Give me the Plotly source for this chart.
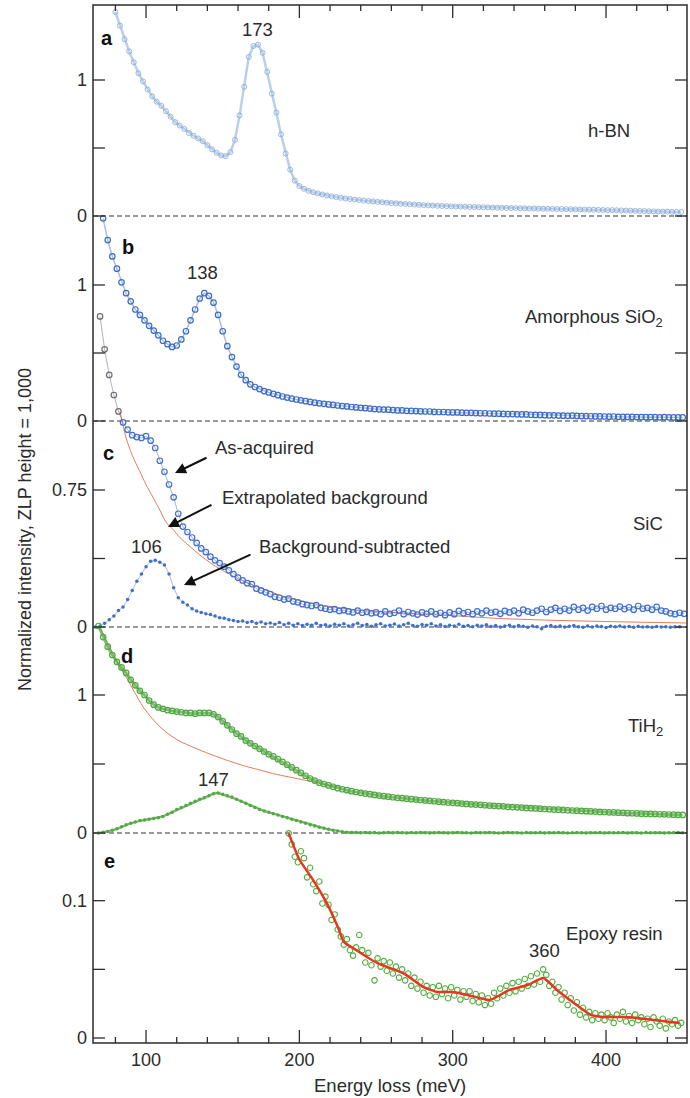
import numpy as np
import plotly.graph_objects as go

FONT = "Liberation Sans, Arial, Helvetica, sans-serif"
INK = "#2b2b2b"

# ---------------------------------------------------------------------------
# Spectra: energy loss (meV) on a regular channel grid, intensity normalised
# to a zero-loss-peak height of 1,000.
# ---------------------------------------------------------------------------
STEP = 3  # meV between channels

# a  h-BN
HBN_START = 80
hbn = [1.50, 1.40, 1.30, 1.21, 1.13, 1.05, 0.99, 0.93, 0.88, 0.84,
       0.81, 0.77, 0.73, 0.69, 0.665, 0.64, 0.61, 0.59, 0.57, 0.55,
       0.52, 0.49, 0.465, 0.445, 0.44, 0.47, 0.56, 0.74, 0.95, 1.17,
       1.25, 1.26, 1.20, 1.06, 0.90, 0.76, 0.60, 0.46, 0.34, 0.26,
       0.22, 0.20, 0.185, 0.175, 0.166, 0.158, 0.151, 0.145, 0.139, 0.134,
       0.129, 0.125, 0.121, 0.117, 0.113, 0.110, 0.107, 0.104, 0.101, 0.098,
       0.095, 0.093, 0.090, 0.088, 0.086, 0.084, 0.082, 0.080, 0.078, 0.077,
       0.075, 0.074, 0.072, 0.071, 0.070, 0.069, 0.068, 0.067, 0.066, 0.065,
       0.064, 0.063, 0.062, 0.061, 0.060, 0.059, 0.058, 0.058, 0.057, 0.056,
       0.055, 0.055, 0.054, 0.053, 0.053, 0.052, 0.051, 0.051, 0.050, 0.050,
       0.049, 0.048, 0.047, 0.047, 0.046, 0.045, 0.044, 0.043, 0.043, 0.042,
       0.041, 0.040, 0.039, 0.038, 0.037, 0.036, 0.035, 0.034, 0.033, 0.032,
       0.032, 0.031, 0.030, 0.030]

# b  amorphous SiO2
SIO2_START = 72
sio2 = [1.49, 1.33, 1.21, 1.12, 1.02, 0.94, 0.88, 0.82, 0.78, 0.74,
        0.70, 0.665, 0.63, 0.59, 0.565, 0.545, 0.555, 0.60, 0.66, 0.74,
        0.82, 0.90, 0.94, 0.92, 0.87, 0.78, 0.66, 0.55, 0.47, 0.40,
        0.34, 0.30, 0.27, 0.25, 0.235, 0.22, 0.21, 0.20, 0.19, 0.18,
        0.172, 0.165, 0.158, 0.152, 0.146, 0.140, 0.135, 0.130, 0.126, 0.122,
        0.118, 0.114, 0.110, 0.107, 0.103, 0.100, 0.097, 0.094, 0.091, 0.088,
        0.086, 0.084, 0.083, 0.080, 0.078, 0.078, 0.075, 0.074, 0.073, 0.071,
        0.070, 0.070, 0.067, 0.066, 0.066, 0.064, 0.063, 0.063, 0.061, 0.060,
        0.060, 0.058, 0.057, 0.057, 0.055, 0.054, 0.054, 0.052, 0.051, 0.051,
        0.049, 0.048, 0.048, 0.046, 0.045, 0.045, 0.043, 0.042, 0.042, 0.040,
        0.039, 0.038, 0.039, 0.037, 0.036, 0.036, 0.035, 0.034, 0.034, 0.033,
        0.032, 0.033, 0.031, 0.031, 0.030, 0.031, 0.029, 0.029, 0.028, 0.029,
        0.028, 0.027, 0.028, 0.027, 0.026, 0.027, 0.026]

# c  SiC: as-acquired, extrapolated background, background-subtracted
SIC_START = 70
sic_raw = [1.70, 1.52, 1.38, 1.27, 1.18, 1.12, 1.08, 1.05, 1.04, 1.035,
           1.045, 1.02, 0.98, 0.91, 0.85, 0.78, 0.71, 0.62, 0.55, 0.52,
           0.49, 0.46, 0.43, 0.41, 0.385, 0.365, 0.35, 0.33, 0.31, 0.29,
           0.27, 0.255, 0.24, 0.235, 0.21, 0.20, 0.19, 0.18, 0.165, 0.16,
           0.15, 0.155, 0.14, 0.135, 0.125, 0.12, 0.115, 0.12, 0.105, 0.10,
           0.095, 0.098, 0.088, 0.092, 0.085, 0.08, 0.09, 0.078, 0.083, 0.075,
           0.08, 0.07, 0.085, 0.072, 0.078, 0.09, 0.07, 0.082, 0.075, 0.068,
           0.08, 0.072, 0.085, 0.07, 0.078, 0.065, 0.08, 0.07, 0.088, 0.075,
           0.082, 0.07, 0.085, 0.075, 0.09, 0.078, 0.083, 0.072, 0.088, 0.08,
           0.09, 0.075, 0.095, 0.085, 0.078, 0.09, 0.10, 0.082, 0.095, 0.105,
           0.088, 0.10, 0.09, 0.11, 0.095, 0.105, 0.09, 0.11, 0.10, 0.115,
           0.095, 0.105, 0.10, 0.112, 0.098, 0.108, 0.095, 0.115, 0.10, 0.105,
           0.095, 0.11, 0.09, 0.085, 0.075, 0.07, 0.078, 0.072]

sic_bg_e = [83, 87, 91, 96, 100, 104.5, 109, 113, 118, 122, 128, 135, 143,
            152, 160, 170, 180, 187, 198, 218, 238, 260, 280, 300, 330, 360,
            400, 452]
sic_bg = [1.18, 1.035, 0.94, 0.85, 0.78, 0.71, 0.64, 0.575, 0.53, 0.49,
          0.445, 0.395, 0.345, 0.30, 0.265, 0.228, 0.198, 0.175, 0.15, 0.115,
          0.093, 0.08, 0.07, 0.062, 0.047, 0.038, 0.030, 0.022]

SIC_SUB_START = 67
sic_sub = [0.0, 0.005, 0.02, 0.04, 0.06, 0.09, 0.11, 0.15, 0.2, 0.25,
           0.29, 0.33, 0.36, 0.365, 0.355, 0.34, 0.29, 0.215, 0.16, 0.135,
           0.12, 0.1, 0.088, 0.08, 0.072, 0.068, 0.06, 0.05, 0.048, 0.04,
           0.035, 0.03, 0.033, 0.025, 0.03, 0.02, 0.028, 0.018, 0.022, 0.015,
           0.025, 0.012, 0.02, 0.01, 0.018, 0.008, 0.015, 0.01, 0.02, 0.008,
           0.012, 0.005, 0.015, 0.01, 0.018, 0.006, 0.012, 0.02, 0.008, 0.014,
           0.004, 0.012, 0.018, 0.006, 0.01, 0.016, 0.005, 0.012, 0.02, 0.008,
           0.004, 0.014, 0.01, 0.018, 0.006, 0.012, 0.003, 0.01, 0.006, 0.015,
           0.004, 0.008, 0.002, 0.01, 0.005, 0.012, 0.003, 0.008, 0.0, 0.006,
           0.01, 0.002, 0.008, 0.004, -0.002, 0.006, 0.002, -0.01, 0.004, 0.008,
           0.002, 0.006, 0.0, 0.004, 0.008, 0.002, -0.002, 0.005, 0.0, 0.006,
           0.003, -0.003, 0.004, 0.001, 0.006, 0.0, 0.003, -0.002, 0.004, 0.0,
           0.002, -0.001, 0.003, 0.0, 0.002, -0.002, 0.001, 0.002]

# d  TiH2: as-acquired, extrapolated background, background-subtracted
TIH2_START = 69
tih2_raw = [1.50, 1.42, 1.35, 1.29, 1.24, 1.20, 1.16, 1.11, 1.07, 1.03,
            1.00, 0.96, 0.93, 0.91, 0.90, 0.89, 0.885, 0.88, 0.875, 0.87,
            0.87, 0.865, 0.87, 0.87, 0.87, 0.86, 0.84, 0.81, 0.78, 0.75,
            0.72, 0.70, 0.67, 0.65, 0.63, 0.61, 0.59, 0.57, 0.555, 0.535,
            0.515, 0.495, 0.475, 0.455, 0.435, 0.415, 0.395, 0.38, 0.365, 0.355,
            0.345, 0.335, 0.325, 0.317, 0.31, 0.303, 0.297, 0.291, 0.286, 0.281,
            0.276, 0.271, 0.267, 0.263, 0.259, 0.255, 0.252, 0.249, 0.245, 0.242,
            0.239, 0.236, 0.233, 0.23, 0.227, 0.224, 0.221, 0.219, 0.216, 0.213,
            0.211, 0.208, 0.206, 0.204, 0.201, 0.199, 0.197, 0.195, 0.193, 0.19,
            0.188, 0.186, 0.184, 0.182, 0.18, 0.178, 0.176, 0.174, 0.172, 0.17,
            0.169, 0.167, 0.165, 0.163, 0.162, 0.16, 0.158, 0.156, 0.155, 0.153,
            0.152, 0.15, 0.149, 0.147, 0.146, 0.144, 0.143, 0.142, 0.14, 0.139,
            0.138, 0.137, 0.136, 0.135, 0.134, 0.133, 0.132, 0.131]

tih2_bg_e = [70, 74, 78, 82, 87, 92, 98, 104, 109, 115, 122, 131, 141, 152,
             163, 174, 185, 196, 207, 218, 225]
tih2_bg = [1.49, 1.40, 1.31, 1.22, 1.13, 1.03, 0.915, 0.83, 0.77, 0.715,
           0.665, 0.62, 0.575, 0.53, 0.49, 0.457, 0.425, 0.40, 0.375, 0.348,
           0.335]

tih2_sub = [0.0, 0.005, 0.01, 0.02, 0.03, 0.045, 0.06, 0.07, 0.08, 0.09,
            0.095, 0.10, 0.105, 0.11, 0.12, 0.135, 0.15, 0.17, 0.185, 0.20,
            0.215, 0.23, 0.245, 0.255, 0.27, 0.285, 0.29, 0.28, 0.27, 0.26,
            0.245, 0.23, 0.215, 0.20, 0.185, 0.17, 0.16, 0.15, 0.14, 0.13,
            0.12, 0.11, 0.10, 0.09, 0.08, 0.07, 0.06, 0.05, 0.042, 0.035,
            0.027, 0.02, 0.014, 0.009, 0.006, 0.004,
            0.003, 0.002, 0.004, 0.001, 0.003, 0.0, 0.002, 0.004, 0.001, 0.003,
            0.002, 0.0, 0.003, 0.001, 0.004, 0.002, 0.0, 0.002, 0.003, 0.001,
            0.0, 0.002, 0.004, 0.001, 0.002, 0.0, 0.003, 0.001, 0.002, 0.004,
            0.001, 0.0, 0.002, 0.003, 0.001, 0.002, 0.0, 0.003, 0.002, 0.001,
            0.003, 0.0, 0.002, 0.001, 0.004, 0.002, 0.0, 0.001, 0.003, 0.002,
            0.0, 0.002, 0.001, 0.003, 0.0, 0.002, 0.001, 0.002, 0.003, 0.0,
            0.001, 0.002, 0.0, 0.003, 0.001, 0.002, 0.001, 0.0, 0.002, 0.001,
            0.003, 0.001]

# e  epoxy resin: measured points and smoothed fit
EPOXY_START = 193
EPOXY_STEP = 2
epoxy = [0.149, 0.141, 0.132, 0.128, 0.136, 0.131, 0.117, 0.124, 0.112, 0.107,
         0.114, 0.098, 0.103, 0.097, 0.086, 0.090, 0.079, 0.074, 0.068, 0.072,
         0.064, 0.060, 0.066, 0.075, 0.064, 0.055, 0.062, 0.053, 0.042, 0.058,
         0.052, 0.056, 0.049, 0.055, 0.047, 0.052, 0.044, 0.050, 0.042, 0.047,
         0.038, 0.044, 0.036, 0.041, 0.033, 0.038, 0.031, 0.037, 0.030, 0.038,
         0.032, 0.036, 0.029, 0.037, 0.031, 0.035, 0.028, 0.034, 0.030, 0.034,
         0.027, 0.032, 0.026, 0.031, 0.024, 0.029, 0.025, 0.033, 0.029, 0.036,
         0.031, 0.038, 0.033, 0.040, 0.034, 0.041, 0.036, 0.043, 0.038, 0.045,
         0.039, 0.047, 0.041, 0.050, 0.046, 0.038, 0.041, 0.033, 0.037, 0.028,
         0.033, 0.024, 0.029, 0.020, 0.026, 0.017, 0.022, 0.015, 0.019, 0.013,
         0.018, 0.014, 0.017, 0.013, 0.018, 0.015, 0.011, 0.017, 0.014, 0.019,
         0.012, 0.016, 0.011, 0.017, 0.013, 0.015, 0.010, 0.014, 0.008, 0.015,
         0.012, 0.009, 0.014, 0.007, 0.012, 0.010, 0.013, 0.009, 0.011]

epoxy_fit_e = [193, 200, 209, 218, 225, 229, 235, 244, 251, 259, 268, 281, 290,
               300, 311, 324, 337, 349, 359, 368, 379, 390, 398, 411, 420, 431, 448]
epoxy_fit = [0.149, 0.130, 0.115, 0.098, 0.081, 0.070, 0.0655, 0.059, 0.0546,
             0.051, 0.047, 0.037, 0.0335, 0.0335, 0.031, 0.0277, 0.035, 0.0386,
             0.0437, 0.035, 0.0255, 0.0168, 0.0153, 0.0153, 0.0146, 0.0131, 0.0109]

# Peak labels: (energy, intensity, text) per panel
peak_labels = {
    "a": (173, 1.37, "173"),
    "b": (137, 1.09, "138"),
    "c": (100.6, 0.44, "106"),
    "d": (144, 0.39, "147"),
    "e": (359.7, 0.064, "360"),
}

x_tickvals = [100, 200, 300, 400]
x_minor_tickvals = [80, 120, 140, 160, 180, 220, 240, 260, 280,
                    320, 340, 360, 380, 420, 440]
X_RANGE = [65.4, 452.8]


def energies(start, values, step=STEP):
    return start + step * np.arange(len(values))


# ---------------------------------------------------------------------------
# Geometry: one shared plot area; each panel gets its own overlaid y axis whose
# range puts that panel's zero on its dashed baseline.
# ---------------------------------------------------------------------------
W, H = 690, 1098
PL, PR, PT, PB = 93, 687, 5, 1043  # plot area in pixels
PW, PH = PR - PL, PB - PT

panels = {
    # name: (axis, zero-line pixel row, px per unit, major tick, label)
    "a": ("y", 216, 136.0, 1.0, "1"),
    "b": ("y2", 421, 136.0, 1.0, "1"),
    "c": ("y3", 627, 137.0 / 0.75, 0.75, "0.75"),
    "d": ("y4", 833, 138.0, 1.0, "1"),
    "e": ("y5", 1038, 1373.0, 0.1, "0.1"),
}


def yrange(zero_px, scale):
    return [(zero_px - PB) / scale, (zero_px - PT) / scale]


def paper_x(px):
    return (px - PL) / PW


def paper_y(py):
    return (PB - py) / PH


def axis_key(ax):
    return "yaxis" if ax == "y" else "yaxis" + ax[1:]


C_TOP = (panels["c"][1] - 420) / panels["c"][2]   # upper edge of panel c

fig = go.Figure()

BLUE_B = "#3d6cc4"
BLUE_C = "#3f70d2"
GREEN = "#52a843"
GREEN_E = "#4fae3a"
BG_RED = "#e27b5d"
FIT_RED = "#e8351e"

# a  h-BN
fig.add_trace(go.Scatter(
    x=energies(HBN_START, hbn), y=hbn, yaxis="y", mode="lines+markers",
    line=dict(color="rgba(126,169,222,0.55)", width=2.5),
    marker=dict(symbol="circle-open", size=5, color="rgba(140,170,210,0.85)",
                line=dict(width=1))))

# b  SiO2
fig.add_trace(go.Scatter(
    x=energies(SIO2_START, sio2), y=sio2, yaxis="y2", mode="lines+markers",
    line=dict(color="rgba(61,108,196,0.45)", width=1.5),
    marker=dict(symbol="circle-open", size=5.5, color=BLUE_B, line=dict(width=1.2))))

# c  SiC
fig.add_trace(go.Scatter(
    x=sic_bg_e, y=sic_bg, yaxis="y3", mode="lines",
    line=dict(color=BG_RED, width=1, shape="spline", smoothing=0.8)))
fig.add_trace(go.Scatter(
    x=energies(SIC_SUB_START, sic_sub), y=sic_sub, yaxis="y3", mode="lines+markers",
    line=dict(color="rgba(63,112,200,0.6)", width=0.8),
    marker=dict(symbol="circle", size=3.5, color="#3f6fc8")))
sic_colors = ["#6e6e6e" if v > C_TOP else BLUE_C for v in sic_raw]
fig.add_trace(go.Scatter(
    x=energies(SIC_START, sic_raw), y=sic_raw, yaxis="y3", mode="lines+markers",
    line=dict(color="rgba(60,80,130,0.55)", width=0.8),
    marker=dict(symbol="circle-open", size=5.5, color=sic_colors, line=dict(width=1.2))))

# d  TiH2
fig.add_trace(go.Scatter(
    x=tih2_bg_e, y=tih2_bg, yaxis="y4", mode="lines",
    line=dict(color=BG_RED, width=1, shape="spline", smoothing=0.8)))
fig.add_trace(go.Scatter(
    x=energies(TIH2_START, tih2_sub), y=tih2_sub, yaxis="y4", mode="lines+markers",
    line=dict(color="rgba(82,168,67,0.8)", width=2.2),
    marker=dict(symbol="circle", size=3.5, color=GREEN)))
fig.add_trace(go.Scatter(
    x=energies(TIH2_START, tih2_raw), y=tih2_raw, yaxis="y4", mode="lines+markers",
    line=dict(color="rgba(82,168,67,0.75)", width=3),
    marker=dict(symbol="circle-open", size=5.5, color=GREEN, line=dict(width=1.2))))

# e  epoxy resin
fig.add_trace(go.Scatter(
    x=energies(EPOXY_START, epoxy, EPOXY_STEP), y=epoxy, yaxis="y5", mode="markers",
    marker=dict(symbol="circle-open", size=5.5, color=GREEN_E, line=dict(width=1.1))))
fig.add_trace(go.Scatter(
    x=epoxy_fit_e, y=epoxy_fit, yaxis="y5", mode="lines",
    line=dict(color=FIT_RED, width=2.5, shape="spline", smoothing=0.5)))

fig.update_traces(showlegend=False, hoverinfo="skip")

# ---------------- axes (labels) ----------------
tickfont = dict(family=FONT, size=18, color=INK)
layout_axes = {}
for name, (ax, zero_px, scale, major, major_txt) in panels.items():
    cfg = dict(
        range=yrange(zero_px, scale), domain=[0, 1],
        tickmode="array", tickvals=[0, major], ticktext=["0", major_txt],
        ticks="", showline=False, showgrid=False, zeroline=False,
        tickfont=tickfont, ticklabelstandoff=5, side="left", anchor="x",
    )
    if ax != "y":
        cfg["overlaying"] = "y"
    layout_axes[axis_key(ax)] = cfg

layout_axes["xaxis"] = dict(
    range=X_RANGE, tickmode="array", tickvals=x_tickvals,
    ticktext=[str(v) for v in x_tickvals],
    ticks="", showline=False, showgrid=False, zeroline=False,
    tickfont=tickfont, ticklabelstandoff=4, side="bottom", anchor="y",
)
fig.update_layout(**layout_axes)

# ---------------- frame, tick marks and dashed baselines ----------------
shapes = []
TICK_STYLE = dict(color=INK, width=1.3)
YT = 12 / PW          # y tick length as a fraction of plot width
XT_MAJOR = 13 / PH    # x tick lengths as fractions of plot height
XT_MINOR = 6 / PH

for name, (ax, zero_px, scale, major, major_txt) in panels.items():
    for v in [0, major / 2, major]:
        shapes.append(dict(type="line", xref="paper", yref=ax, x0=0, x1=YT,
                           y0=v, y1=v, line=TICK_STYLE, layer="above"))
        shapes.append(dict(type="line", xref="paper", yref=ax, x0=1 - YT, x1=1,
                           y0=v, y1=v, line=TICK_STYLE, layer="above"))

for vals, length in [(x_tickvals, XT_MAJOR), (x_minor_tickvals, XT_MINOR)]:
    for v in vals:
        shapes.append(dict(type="line", xref="x", yref="paper", x0=v, x1=v,
                           y0=0, y1=length, line=TICK_STYLE, layer="above"))
        shapes.append(dict(type="line", xref="x", yref="paper", x0=v, x1=v,
                           y0=1 - length, y1=1, line=TICK_STYLE, layer="above"))

shapes.append(dict(type="rect", xref="paper", yref="paper", x0=0, x1=1, y0=0, y1=1,
                   line=dict(color=INK, width=1.5), fillcolor="rgba(0,0,0,0)",
                   layer="above"))

for name in ["a", "b", "c", "d"]:
    ax = panels[name][0]
    shapes.append(dict(type="line", xref="paper", x0=0, x1=1, yref=ax, y0=0, y1=0,
                       line=dict(color="#333333", width=1.1, dash="5px,3px"),
                       layer="below"))

# ---------------- annotations ----------------
ann = []
txtfont = dict(family=FONT, size=18.5, color=INK)

for name, (ex, ey, txt) in peak_labels.items():
    ann.append(dict(x=ex, y=ey, xref="x", yref=panels[name][0], text=txt,
                    showarrow=False, font=txtfont, xanchor="center", yanchor="middle"))

# panel letters
for letter, (lx, ly) in {"a": (107, 38), "b": (128, 247), "c": (108, 453),
                         "d": (127, 656), "e": (109, 861)}.items():
    ann.append(dict(x=paper_x(lx), y=paper_y(ly), xref="paper", yref="paper",
                    text="<b>%s</b>" % letter, showarrow=False,
                    font=dict(family=FONT, size=20, color="#111"),
                    xanchor="center", yanchor="middle"))

# material names
for txt, (rx, ry) in {"h-BN": (632, 130), "Amorphous SiO<sub>2</sub>": (665, 318),
                      "SiC": (665, 523), "TiH<sub>2</sub>": (665, 727),
                      "Epoxy resin": (665, 933)}.items():
    ann.append(dict(x=paper_x(rx), y=paper_y(ry), xref="paper", yref="paper",
                    text=txt, showarrow=False, font=txtfont,
                    xanchor="right", yanchor="middle"))

# SiC curve captions with arrows
for txt, (tx, ty), (tail, head) in [
    ("As-acquired", (213, 447), ((208, 457), (175, 473))),
    ("Extrapolated background", (220, 497), ((213, 504), (168, 527))),
    ("Background-subtracted", (257, 546), ((252, 554), (184, 585))),
]:
    ann.append(dict(x=paper_x(tx), y=paper_y(ty), xref="paper", yref="paper",
                    text=txt, showarrow=False, font=txtfont,
                    xanchor="left", yanchor="middle"))
    ann.append(dict(x=paper_x(head[0]), y=paper_y(head[1]), xref="paper", yref="paper",
                    ax=tail[0] - head[0], ay=tail[1] - head[1],
                    axref="pixel", ayref="pixel", text="", showarrow=True,
                    arrowhead=2, arrowsize=1.1, arrowwidth=2, arrowcolor="#111"))

# axis titles
ann.append(dict(x=paper_x(390), y=paper_y(1085), xref="paper", yref="paper",
                text="Energy loss (meV)", showarrow=False, font=txtfont,
                xanchor="center", yanchor="middle"))
ann.append(dict(x=paper_x(25), y=paper_y(530), xref="paper", yref="paper",
                text="Normalized intensity, ZLP height = 1,000", textangle=-90,
                showarrow=False, font=dict(family=FONT, size=18, color=INK),
                xanchor="center", yanchor="middle"))

fig.update_layout(
    width=W, height=H, autosize=False,
    margin=dict(l=PL, r=W - PR, t=PT, b=H - PB, pad=0),
    paper_bgcolor="white", plot_bgcolor="white",
    shapes=shapes, annotations=ann, showlegend=False,
)

fig.write_html("out.html")
